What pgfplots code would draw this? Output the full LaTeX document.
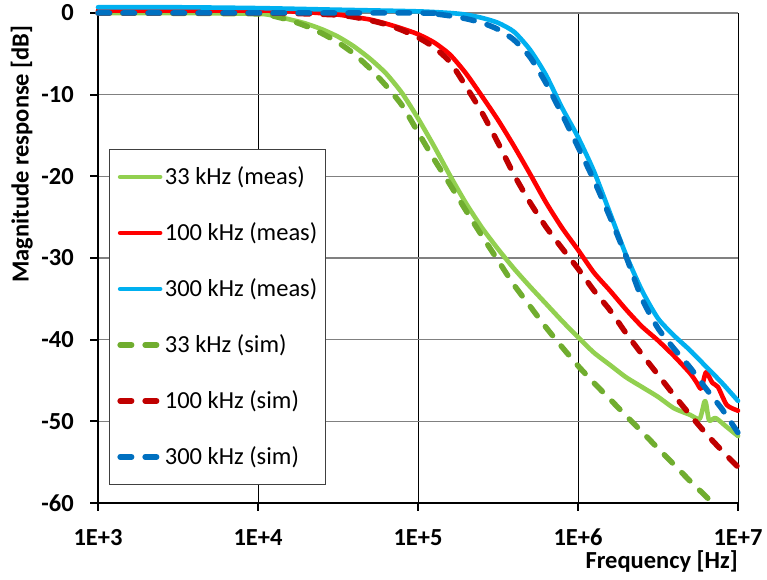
\documentclass[border=0pt]{standalone}
\usepackage{fontspec}
\setmainfont{Carlito}
\usepackage{pgfplots}
\pgfplotsset{compat=1.18}
\definecolor{gmeas}{HTML}{92D050}
\definecolor{rmeas}{HTML}{FF0000}
\definecolor{bmeas}{HTML}{00B0F0}
\definecolor{gsim}{HTML}{70AD2F}
\definecolor{rsim}{HTML}{C00000}
\definecolor{bsim}{HTML}{0070C0}
\definecolor{gridgray}{HTML}{808080}
\begin{document}
\begin{tikzpicture}
\begin{axis}[
  scale only axis,
  width=640bp, height=490bp,
  xmode=log, log basis x=10,
  xmin=1e3, xmax=1e7, ymin=-60, ymax=0,
  xtick={1e3,1e4,1e5,1e6,1e7},
  xticklabels={1E+3,1E+4,1E+5,1E+6,1E+7},
  minor xtick={}, xminorgrids=false,
  ytick={-60,-50,-40,-30,-20,-10,0},
  yticklabels={-60,-50,-40,-30,-20,-10,0},
  font=\fontsize{24.5bp}{29bp}\selectfont,
  ticklabel style={font=\fontsize{24.5bp}{29bp}\selectfont\bfseries},
  xticklabel style={anchor=base, inner sep=0pt, yshift=-35bp},
  yticklabel style={anchor=east, inner sep=0pt, xshift=-16bp},
  axis x line*=bottom, axis y line*=left,
  x axis line style={-, black, line width=2.5bp},
  y axis line style={-, black, line width=2.5bp},
  tick align=outside,
  major tick length=8bp,
  tick style={black, line width=2bp},
  xmajorgrids, ymajorgrids,
  x grid style={black, line width=0.8bp},
  y grid style={gridgray, line width=1.5bp},
  xlabel={\bfseries Frequency [Hz]},
  xlabel style={at={(axis description cs:1,0)}, anchor=base east, inner sep=0pt, yshift=-66bp},
  ylabel={\bfseries Magnitude response [dB]},
  ylabel style={at={(axis description cs:-0.119,0.712)}, anchor=center, rotate=0},
  clip=false,
  legend cell align=left,
  legend image code/.code={\draw[#1] (0bp,8bp) -- (40bp,8bp);},
  legend style={at={(rel axis cs:0.0172,0.7224)}, anchor=north west,
    draw=black!75, line width=0.75bp, fill=white,
    inner xsep=8bp, inner ysep=16.5bp, row sep=34bp, column sep=2bp,
    font=\fontsize{24.5bp}{29bp}\selectfont,
    nodes={inner sep=0pt, text height=19bp, text depth=3bp, anchor=base west}},
  meas/.style={line width=4.6bp, line cap=round, line join=round, smooth, tension=0.4},
  sim/.style={line width=5.5bp, line cap=round, line join=round, dash pattern=on 11.5bp off 13.5bp, smooth, tension=0.4},
]
\addplot[meas, gmeas] coordinates {(1e3,0)(3.1623e3,0)(1e4,-0.1)(1.2589e4,-0.35)(1.5849e4,-0.8)(1.9953e4,-1.3)(2.5119e4,-2.0)(3.1623e4,-2.9)(3.9811e4,-4.1)(5.0119e4,-5.6)(6.3096e4,-7.4)(7.9433e4,-9.8)(1e5,-12.9)(1.2589e5,-16.3)(1.5849e5,-19.9)(1.9953e5,-23.3)(2.5119e5,-26.3)(3.1623e5,-28.9)(3.9811e5,-31.3)(5.0119e5,-33.5)(6.3096e5,-35.6)(7.9433e5,-37.7)(1e6,-39.7)(1.2589e6,-41.6)(1.5849e6,-43.1)(1.9953e6,-44.6)(2.5119e6,-45.8)(3.1623e6,-47.0)(3.9811e6,-48.4)(5.0119e6,-49.2)(5.754e6,-49.7)(6.166e6,-47.6)(6.31e6,-47.8)(6.607e6,-49.9)(7.244e6,-49.6)(8.511e6,-50.7)(1e7,-51.8)};
\addlegendentry{33 kHz (meas)}
\addplot[meas, rmeas] coordinates {(1e3,0.3)(1e4,0.3)(1.9953e4,0.1)(3.1623e4,-0.2)(3.9811e4,-0.5)(5.0119e4,-0.8)(6.3096e4,-1.3)(7.9433e4,-1.9)(1e5,-2.6)(1.2589e5,-3.6)(1.5849e5,-5.1)(1.9953e5,-7.4)(2.5119e5,-10.2)(3.1623e5,-13.1)(3.9811e5,-16.3)(5.0119e5,-19.7)(6.3096e5,-23.2)(7.9433e5,-26.3)(1e6,-29.0)(1.2589e6,-31.8)(1.5849e6,-34.0)(1.9953e6,-36.3)(2.5119e6,-38.4)(3.1623e6,-40.1)(3.9811e6,-42.0)(5.0119e6,-44.1)(5.495e6,-45.2)(5.888e6,-46.0)(6.31e6,-44.0)(6.918e6,-45.3)(7.499e6,-45.8)(8.511e6,-48.0)(1e7,-48.7)};
\addlegendentry{100 kHz (meas)}
\addplot[meas, bmeas] coordinates {(1e3,0.7)(3.1623e3,0.7)(1e4,0.6)(3.1623e4,0.4)(1e5,0.2)(1.5849e5,0)(1.9953e5,-0.2)(2.5119e5,-0.6)(3.1623e5,-1.2)(3.9811e5,-2.3)(5.0119e5,-4.5)(6.3096e5,-7.6)(7.9433e5,-11.6)(1e6,-15.2)(1.2589e6,-19.4)(1.5849e6,-24.5)(1.9953e6,-29.6)(2.5119e6,-34.0)(3.1623e6,-37.4)(3.9811e6,-39.5)(5.0119e6,-41.3)(6.3096e6,-43.3)(7.9433e6,-45.3)(1e7,-47.5)};
\addlegendentry{300 kHz (meas)}
\addplot[sim, gsim] coordinates {(1e3,0)(1e4,-0.1)(1.2589e4,-0.4)(1.5849e4,-0.9)(1.9953e4,-1.6)(2.5119e4,-2.5)(3.1623e4,-3.6)(3.9811e4,-5.0)(5.0119e4,-6.8)(6.3096e4,-8.9)(7.9433e4,-11.3)(1e5,-14.6)(1.2589e5,-17.9)(1.5849e5,-21.0)(1.9953e5,-24.2)(2.5119e5,-27.3)(3.1623e5,-30.3)(3.9811e5,-33.3)(5.0119e5,-35.9)(6.3096e5,-38.5)(7.9433e5,-40.9)(1e6,-43.2)(1.2589e6,-45.3)(1.5849e6,-47.3)(1.9953e6,-49.3)(2.5119e6,-51.3)(3.1623e6,-53.3)(3.9811e6,-55.3)(5.0119e6,-57.3)(6.3096e6,-59.2)(6.918e6,-60)};
\addlegendentry{33 kHz (sim)}
\addplot[sim, rsim] coordinates {(1e3,0)(1e4,0)(1.9953e4,-0.1)(3.1623e4,-0.25)(3.9811e4,-0.5)(5.0119e4,-0.9)(6.3096e4,-1.4)(7.9433e4,-2.1)(1e5,-3.0)(1.2589e5,-4.2)(1.5849e5,-6.0)(1.9953e5,-9.0)(2.5119e5,-12.2)(3.1623e5,-15.9)(3.9811e5,-19.8)(5.0119e5,-23.2)(6.3096e5,-26.2)(7.9433e5,-28.8)(1e6,-31.3)(1.2589e6,-34.0)(1.5849e6,-36.4)(1.9953e6,-39.2)(2.5119e6,-41.8)(3.1623e6,-44.3)(3.9811e6,-46.8)(5.0119e6,-49.2)(6.3096e6,-51.5)(7.9433e6,-53.6)(1e7,-55.6)};
\addlegendentry{100 kHz (sim)}
\addplot[sim, bsim] coordinates {(1e3,0)(1e5,0)(1.2589e5,-0.1)(1.5849e5,-0.35)(1.9953e5,-0.7)(2.5119e5,-1.2)(3.1623e5,-2.0)(3.9811e5,-3.3)(5.0119e5,-5.4)(6.3096e5,-8.6)(7.9433e5,-12.4)(1e6,-16.4)(1.2589e6,-20.5)(1.5849e6,-25.0)(1.9953e6,-29.8)(2.5119e6,-35.0)(3.1623e6,-38.6)(3.9811e6,-41.1)(5.0119e6,-43.4)(6.3096e6,-46.0)(7.9433e6,-48.5)(1e7,-51.4)};
\addlegendentry{300 kHz (sim)}
\end{axis}
\pgfresetboundingbox
\path[use as bounding box] ([xshift=-98bp,yshift=-77bp]current axis.south west) rectangle ([xshift=29bp,yshift=13bp]current axis.north east);
\end{tikzpicture}
\end{document}
